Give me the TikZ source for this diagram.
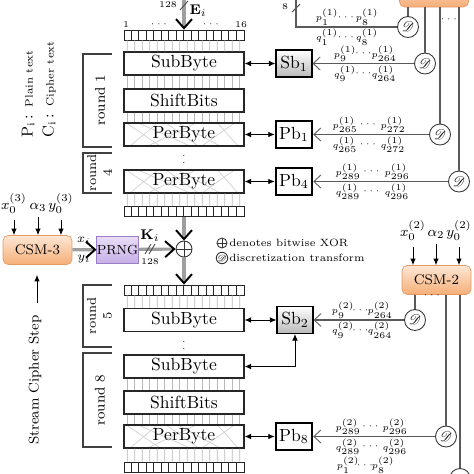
\documentclass[tikz,border=0pt]{standalone}
\usepackage{amsmath}
\usepackage{amssymb}
\usepackage{mathrsfs}
\usepackage{tikz}
\usetikzlibrary{arrows.meta, positioning, calc}

\definecolor{csmtop}{HTML}{FDE7D4}
\definecolor{csmbot}{HTML}{F6AE78}
\definecolor{csmdraw}{HTML}{E39A66}
\definecolor{prngtop}{HTML}{E8DDF6}
\definecolor{prngbot}{HTML}{C7B0E6}
\definecolor{prngdraw}{HTML}{9A7EC6}
\definecolor{wiregray}{HTML}{5A5A5A}

\begin{document}
\begin{tikzpicture}[
    x=0.02cm, y=-0.02cm,
    block/.style={rectangle, draw=black!85, line width=0.6pt, fill=white, minimum width=2.4cm, minimum height=0.46cm, inner sep=0pt},
    perm/.style={block, path picture={
        \foreach \s/\e in {0.02/0.3, 0.12/0.55, 0.28/0.05, 0.45/0.8, 0.6/0.2, 0.78/0.95, 0.92/0.65, 0.35/0.62}
          \draw[gray!35, line width=0.4pt] ($(path picture bounding box.north west)!\s!(path picture bounding box.north east)$) -- ($(path picture bounding box.south west)!\e!(path picture bounding box.south east)$);
    }},
    reg/.style={rectangle, draw=black!85, line width=0.5pt, minimum width=2.4cm, minimum height=0.2cm, inner sep=0pt},
    sbox/.style={rectangle, draw, line width=0.6pt, top color=white, bottom color=gray!55, minimum width=0.72cm, minimum height=0.54cm, inner sep=0pt},
    pbox/.style={rectangle, draw, line width=1.4pt, fill=white, minimum width=0.72cm, minimum height=0.54cm, inner sep=0pt},
    csm/.style={rectangle, rounded corners=3pt, draw=csmdraw, top color=csmtop, bottom color=csmbot, minimum width=1.38cm, minimum height=0.58cm, font=\footnotesize},
    prngbox/.style={rectangle, draw=prngdraw, top color=prngtop, bottom color=prngbot, minimum width=0.78cm, minimum height=0.54cm, inner sep=0pt, font=\fontsize{7.5}{9}\selectfont},
    dcirc/.style={circle, draw=black!80, fill=white, line width=0.5pt, minimum size=0.42cm, inner sep=0pt, font=\footnotesize},
    xorsym/.style={circle, draw=black!80, fill=white, line width=0.5pt, minimum size=0.32cm, inner sep=0pt, path picture={
        \draw[black!80, line width=0.5pt] (path picture bounding box.north) -- (path picture bounding box.south) (path picture bounding box.west) -- (path picture bounding box.east);
    }},
    bus/.style={draw=gray!75, line width=1.8pt, -{Straight Barb[length=1.8mm, width=3.2mm, line width=1.1pt, color=black]}},
    link/.style={line width=0.5pt, {Latex[length=1.3mm, width=1.1mm]}-{Latex[length=1.3mm, width=1.1mm]}},
    feed/.style={draw=wiregray, line width=0.6pt, -{Straight Barb[length=1.4mm, width=2.6mm, line width=0.5pt]}},
    wire/.style={draw=wiregray, line width=0.6pt},
    inarrow/.style={line width=0.5pt, -{Latex[length=1.3mm, width=1.1mm]}},
    bitline/.style={draw=gray!55, line width=0.4pt},
    lbl/.style={font=\tiny, inner sep=0pt},
    vdot/.style={font=\tiny, inner sep=0pt},
    brace/.style={draw=black!75, line width=0.6pt},
]
\useasboundingbox (0,0) rectangle (474,474);
\clip (0,0) rectangle (474,474);

% main column
\node[reg] (reg1) at (184,35) {};
\node[block] (sub1) at (184,63.5) {SubByte};
\node[block] (shf1) at (184,100.5) {ShiftBits};
\node[perm] (per1) at (184,134.5) {PerByte};
\node[vdot] (vd1) at (184,158) {$\vdots$};
\node[perm] (per4) at (184,181.5) {PerByte};
\node[reg] (reg2) at (184,211.5) {};
\node[xorsym] (xor) at (184,249) {};
\node[reg] (reg3) at (184,290) {};
\node[block] (sub5) at (184,320) {SubByte};
\node[vdot] (vd2) at (184,344) {$\vdots$};
\node[block] (sub8) at (184,366.5) {SubByte};
\node[block] (shf8) at (184,402.5) {ShiftBits};
\node[perm] (per8) at (184,436.5) {PerByte};
\node[reg] (reg4) at (184,467) {};

\foreach \r in {reg1, reg2, reg3, reg4}
  \foreach \i in {1,...,15}
    \draw[black!85, line width=0.5pt] ($(\r.south west)+(\i*7.5,0)$) -- ($(\r.north west)+(\i*7.5,0)$);
\foreach \a/\b in {reg1/sub1, sub1/shf1, shf1/per1, per4/reg2, reg3/sub5, sub8/shf8, shf8/per8, per8/reg4}
  \foreach \i in {1,...,16}
    \draw[bitline] ($(\a.south west)+(\i*7.5-3.75,0)$) -- ($(\b.north west)+(\i*7.5-3.75,0)$);

\node[lbl] (n1) at (126,25) {1};
\node[lbl] (n2) at (160,24) {$\cdots$};
\node[lbl] (n3) at (212,24) {$\cdots$};
\node[lbl] (n16) at (241,25) {16};

% input E_i
\coordinate (ein) at (184,-2);
\draw[bus] (ein) -- (reg1.north);
\draw[black!70, line width=0.5pt] (180,10) -- (188,1);
\node[lbl] (e128) at (168,5) {128};
\node[font=\footnotesize] (elab) at (198,11) {$\mathbf{E}_i$};

% rounds
\draw[brace] (112,54) -- (83,54) -- (83,147) -- (112,147);
\node[rotate=90, font=\footnotesize] (rnd1) at (100,100) {round 1};
\draw[brace] (112,153) -- (83,153) -- (83,193) -- (112,193);
\node[rotate=90, font=\fontsize{7.3}{9}\selectfont, align=center, inner sep=0pt] (rnd4) at (99.5,173) {round\\4};
\draw[brace] (112,285) -- (83,285) -- (83,347) -- (112,347);
\node[rotate=90, font=\fontsize{7.3}{9}\selectfont, align=center, inner sep=0pt] (rnd5) at (99.5,316) {round\\5};
\draw[brace] (112,353) -- (83,353) -- (83,447) -- (112,447);
\node[rotate=90, font=\footnotesize] (rnd8) at (100,400) {round 8};

% notes
\node[rotate=90, anchor=west, inner sep=0pt] (ptxt) at (28,138) {{\small P\textsubscript{i}\,:} {\fontsize{6}{7}\selectfont Plain text}};
\node[rotate=90, anchor=west, inner sep=0pt] (ctxt) at (49,138) {{\small C\textsubscript{i}\,:} {\fontsize{6}{7}\selectfont Cipher text}};
\node[rotate=90, font=\footnotesize] (scs) at (35,380) {Stream Cipher Step};

% keystream
\node[csm] (csm3) at (37.5,250) {CSM-3};
\node[prngbox] (prng) at (117.5,249.5) {PRNG};
\node[font=\footnotesize] (x3) at (14,204) {$x_0^{(3)}$};
\node[font=\footnotesize] (a3) at (38,207) {$\alpha_3$};
\node[font=\footnotesize] (y3) at (61,204) {$y_0^{(3)}$};
\foreach \v in {x3, a3, y3}
  \draw[inarrow] (\v) -- (\v |- csm3.north);
\coordinate (scsin) at (37,303);
\draw[inarrow, shorten >=0.2cm] (scsin) -- (scsin |- csm3.south);
\draw[bus] (csm3) -- (prng);
\node[font=\scriptsize, inner sep=0pt] (xi) at (84,241) {$x_i$};
\node[font=\scriptsize, inner sep=0pt] (yi) at (84,259) {$y_i$};
\draw[bus] (prng) -- (xor);
\draw[black!70, line width=0.5pt] (145,254) -- (151,244) (149,254) -- (155,244);
\node[font=\footnotesize] (klab) at (150,236) {$\mathbf{K}_i$};
\node[lbl] (k128) at (150,262) {128};
\draw[bus] (reg2) -- (xor);
\draw[bus] (xor) -- (reg3);

% legend
\node[xorsym, minimum size=0.2cm] (legx) at (222,243) {};
\node[dcirc, minimum size=0.18cm, font=\tiny] (legd) at (222,258) {$\mathscr{D}$};
\node[anchor=west, inner sep=0pt, font=\fontsize{6}{7}\selectfont] (legxt) at (229,243) {denotes bitwise XOR};
\node[anchor=west, inner sep=0pt, font=\fontsize{6}{7}\selectfont] (legdt) at (229,258) {discretization transform};

% S-boxes and P-boxes
\node[sbox] (sb1) at (294,63.5) {Sb$_1$};
\node[pbox] (pb1) at (294,134.5) {Pb$_1$};
\node[pbox] (pb4) at (294,181.5) {Pb$_4$};
\node[sbox] (sb2) at (295,320) {Sb$_2$};
\node[pbox] (pb8) at (294,436.5) {Pb$_8$};
\draw[link] (sub1.east) -- (sub1.east -| sb1.west);
\draw[link] (per1.east) -- (per1.east -| pb1.west);
\draw[link] (per4.east) -- (per4.east -| pb4.west);
\draw[link] (sub5.east) -- (sub5.east -| sb2.west);
\draw[link] (per8.east) -- (per8.east -| pb8.west);
\draw[link] (sub8.east) -| (sb2.south);

% chaotic maps 1
\node[csm, minimum height=0.64cm] (csm1) at (434,-9) {};
\node[dcirc] (d0) at (408,27) {$\mathscr{D}$};
\node[dcirc] (d1) at (425,63.5) {$\mathscr{D}$};
\node[dcirc] (d2) at (440,134.5) {$\mathscr{D}$};
\node[dcirc] (d4) at (459,181.5) {$\mathscr{D}$};
\foreach \d in {d0, d1, d2, d4}
  \draw[wire] (csm1.south -| \d) -- (\d);
\node[lbl] (dots1) at (450,19) {$\cdots$};
\coordinate (top8) at (296,-2);
\draw[wire] (d0) -| (top8);
\draw[wire] (292,12) -- (300,4);
\node[lbl] (b8) at (285,7) {8};
\draw[feed] (d1) -- (d1 -| sb1.east);
\draw[feed] (d2) -- (d2 -| pb1.east);
\draw[feed] (d4) -- (d4 -| pb4.east);

% chaotic maps 2
\node[csm] (csm2) at (436.5,280) {CSM-2};
\node[font=\footnotesize] (x2) at (413,231) {$x_0^{(2)}$};
\node[font=\footnotesize] (a2) at (436,234) {$\alpha_2$};
\node[font=\footnotesize] (y2) at (459,231) {$y_0^{(2)}$};
\foreach \v in {x2, a2, y2}
  \draw[inarrow] (\v) -- (\v |- csm2.north);
\node[dcirc] (d5) at (415,320) {$\mathscr{D}$};
\node[dcirc] (d8) at (446,436.5) {$\mathscr{D}$};
\node[dcirc] (d9) at (460,479) {};
\foreach \d in {d5, d8, d9}
  \draw[wire] (csm2.south -| \d) -- (\d);
\node[lbl] (dots2) at (433,295) {$\cdots$};
\draw[feed] (d5) -- (d5 -| sb2.east);
\draw[feed] (d8) -- (d8 -| pb8.east);

% sub-key labels
\foreach \xa/\xb/\yl/\k/\lo/\hi [count=\n] in {327/367/27/1/1/8, 345/384/63.5/1/9/264, 345/393/134.5/1/265/272, 348/397/181.5/1/289/296, 343/380/320/2/9/264, 348/395/436.5/2/289/296} {
  \node[lbl] (plo\n) at (\xa,\yl-10) {$p^{(\k)}_{\lo}$};
  \node[lbl] (pdot\n) at ({(\xa+\xb)/2},\yl-10) {$\cdots$};
  \node[lbl] (phi\n) at (\xb,\yl-10) {$p^{(\k)}_{\hi}$};
  \node[lbl] (qlo\n) at (\xa,\yl+10) {$q^{(\k)}_{\lo}$};
  \node[lbl] (qdot\n) at ({(\xa+\xb)/2},\yl+10) {$\cdots$};
  \node[lbl] (qhi\n) at (\xb,\yl+10) {$q^{(\k)}_{\hi}$};
}
\node[lbl] (plo7) at (348,465) {$p^{(2)}_{1}$};
\node[lbl] (pdot7) at (366,465) {$\cdots$};
\node[lbl] (phi7) at (383,465) {$p^{(2)}_{8}$};
\end{tikzpicture}
\end{document}
